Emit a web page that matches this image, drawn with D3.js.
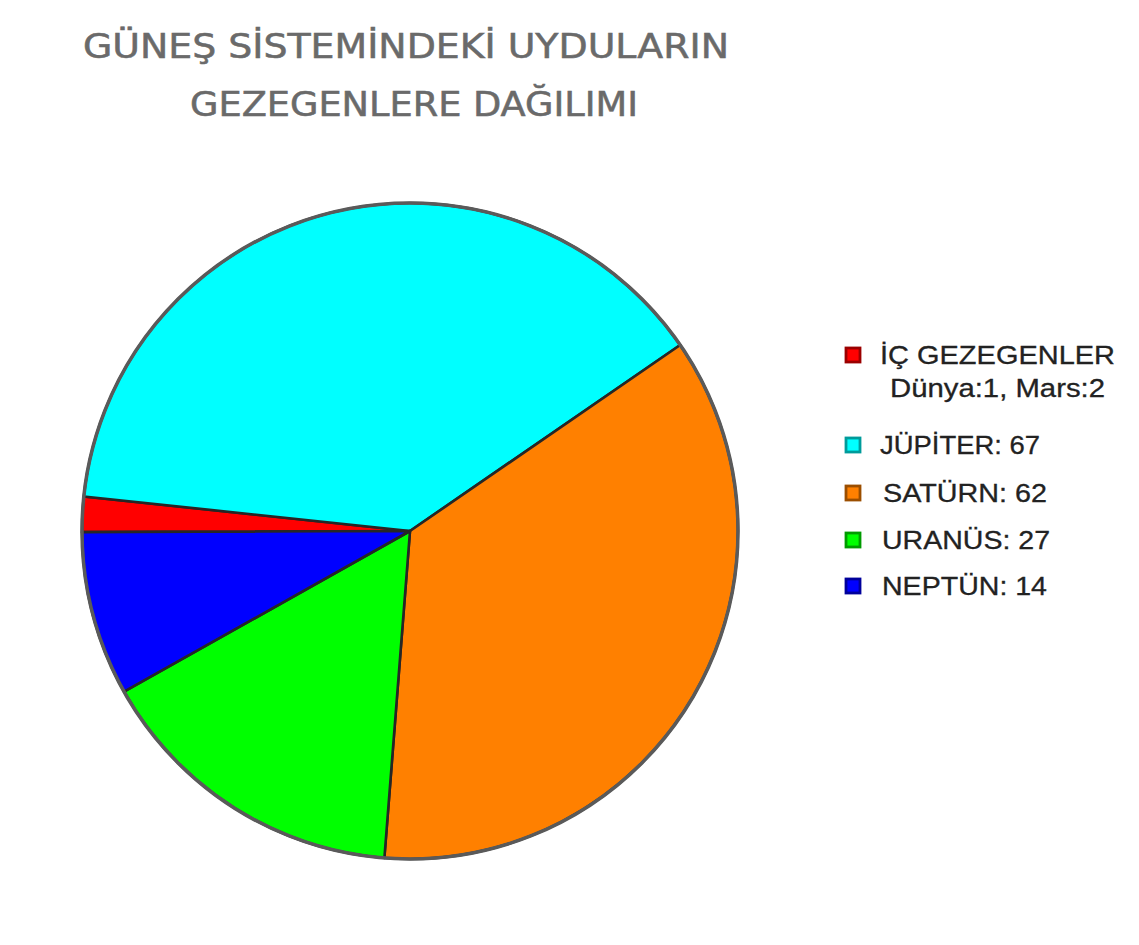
<!DOCTYPE html>
<html>
<head>
<meta charset="utf-8">
<script src="https://cdn.jsdelivr.net/npm/d3@7"></script>
<style>
  body { margin: 0; background: #fff; }
  svg { display: block; }
</style>
</head>
<body>
<svg id="chart" width="1139" height="945"></svg>
<script>
// data
const planets = ["İÇ GEZEGENLER", "JÜPİTER", "SATÜRN", "URANÜS", "NEPTÜN"];
const moons = [3, 67, 62, 27, 14];
const colours = ["#ff0000", "#00ffff", "#ff8000", "#00ff00", "#0000ff"];
const legendLabels = ["İÇ GEZEGENLER", "JÜPİTER: 67", "SATÜRN: 62", "URANÜS: 27", "NEPTÜN: 14"];
const innerNote = "Dünya:1, Mars:2";
const titleLines = ["GÜNEŞ SİSTEMİNDEKİ UYDULARIN", "GEZEGENLERE DAĞILIMI"];

const svg = d3.select("#chart");
const cx = 410, cy = 531, radius = 328;

const table = planets.map((p, i) => ({ name: p, value: moons[i], colour: colours[i] }));

// pie starts at 9 o'clock, going clockwise
const start = 269.8 * Math.PI / 180;
const pie = d3.pie().sort(null).value(d => d.value)
    .startAngle(start).endAngle(start + 2 * Math.PI);
const arc = d3.arc().innerRadius(0).outerRadius(radius);

const g = svg.append("g").attr("transform", `translate(${cx},${cy})`);

g.selectAll("path.slice")
    .data(pie(table))
    .join("path")
    .attr("class", "slice")
    .attr("d", arc)
    .attr("fill", d => d.data.colour)
    .attr("stroke", "#262626")
    .attr("stroke-width", 2.6)
    .attr("stroke-linejoin", "round");

// outer rim, slightly grey like the original
g.append("circle")
    .attr("r", radius)
    .attr("fill", "none")
    .attr("stroke", "#5a5a5a")
    .attr("stroke-width", 3.5);

// title
const title = svg.append("g")
    .attr("font-family", "'Comic Sans MS', 'DejaVu Sans Condensed', 'DejaVu Sans', sans-serif")
    .attr("fill", "#6a6a6a")
    .attr("stroke", "#6a6a6a")
    .attr("stroke-width", 0.5)
    .attr("font-size", 33);

title.append("text")
    .attr("x", 406).attr("y", 58)
    .attr("text-anchor", "middle")
    .attr("textLength", 646).attr("lengthAdjust", "spacingAndGlyphs")
    .text(titleLines[0]);
title.append("text")
    .attr("x", 414).attr("y", 116)
    .attr("text-anchor", "middle")
    .attr("textLength", 448).attr("lengthAdjust", "spacingAndGlyphs")
    .text(titleLines[1]);

// legend layout
const rowY = [355, 445, 493, 540, 586];
const textX = [880, 880, 883, 882, 882];
const textW = [235, 160, 164, 168, 165];

const legend = svg.append("g")
    .attr("font-family", "'Liberation Sans', Arial, sans-serif")
    .attr("font-size", 25)
    .attr("fill", "#222")
    .attr("stroke", "#222")
    .attr("stroke-width", 0.3);

const rows = legend.selectAll("g.row")
    .data(table)
    .join("g")
    .attr("class", "row")
    .attr("transform", (d, i) => `translate(0,${rowY[i]})`);

rows.append("rect")
    .attr("x", 846).attr("y", -7)
    .attr("width", 14).attr("height", 14)
    .attr("fill", d => d.colour)
    .attr("stroke", d => d3.color(d.colour).darker(1.4))
    .attr("stroke-width", 2.8);

rows.append("text")
    .attr("x", (d, i) => textX[i]).attr("y", 9)
    .attr("textLength", (d, i) => textW[i]).attr("lengthAdjust", "spacingAndGlyphs")
    .text((d, i) => legendLabels[i]);

legend.append("text")
    .attr("x", 890).attr("y", 397)
    .attr("textLength", 215).attr("lengthAdjust", "spacingAndGlyphs")
    .text(innerNote);
</script>
</body>
</html>
